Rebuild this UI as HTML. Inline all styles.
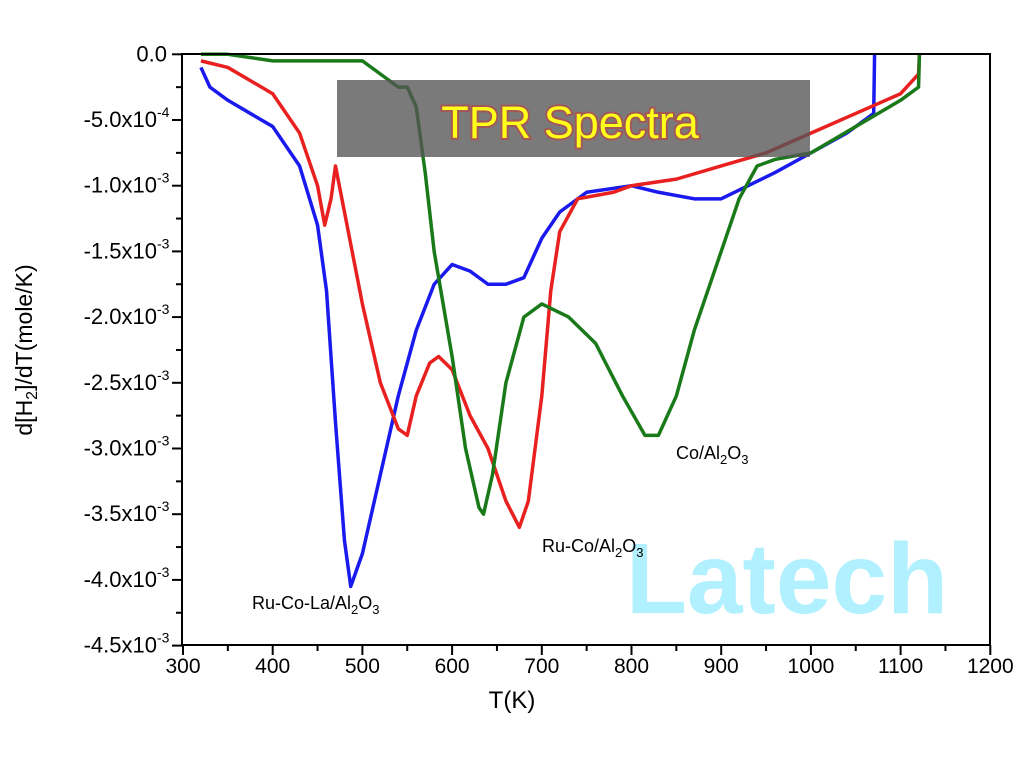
<!DOCTYPE html>
<html><head><meta charset="utf-8"><style>
html,body{margin:0;padding:0;background:#fff;width:1024px;height:768px;overflow:hidden}
svg{display:block}
text{font-family:"Liberation Sans",sans-serif}
</style></head><body>
<svg id="s" width="1024" height="768" viewBox="0 0 1024 768">
<g id="plot"></g>
<rect x="337" y="80" width="473" height="77" fill="#555" fill-opacity="0.78"/>
<text x="570" y="138" text-anchor="middle" font-size="45" fill="#ffff1a" stroke="#c33" stroke-width="4" stroke-opacity="0.5" paint-order="stroke">TPR Spectra</text>
<text x="787" y="613" text-anchor="middle" font-size="100" font-weight="bold" fill="#b0f0ff">Latech</text>
<rect x="182" y="54" width="808" height="591" fill="none" stroke="#000" stroke-width="2"/>
<g font-size="18" fill="#000">
<text x="252" y="609">Ru-Co-La/Al<tspan font-size="13" dy="5">2</tspan><tspan dy="-5">O</tspan><tspan font-size="13" dy="5">3</tspan></text>
<text x="542" y="552">Ru-Co/Al<tspan font-size="13" dy="5">2</tspan><tspan dy="-5">O</tspan><tspan font-size="13" dy="5">3</tspan></text>
<text x="676" y="459">Co/Al<tspan font-size="13" dy="5">2</tspan><tspan dy="-5">O</tspan><tspan font-size="13" dy="5">3</tspan></text>
</g>
<text x="512" y="708" text-anchor="middle" font-size="24">T(K)</text>
<text transform="translate(32,350) rotate(-90)" text-anchor="middle" font-size="23">d[H<tspan font-size="16" dy="5">2</tspan><tspan dy="-5">]/dT(mole/K)</tspan></text>
</svg>
<script>
const g=document.getElementById('plot');const NS='http://www.w3.org/2000/svg';
const X=t=>183+(t-300)*0.897, Y=v=>54.3+(-v)*131.4;
function el(n,a){const e=document.createElementNS(NS,n);for(const k in a)e.setAttribute(k,a[k]);g.appendChild(e);return e;}
for(let t=300;t<=1200;t+=50){const x=X(t),M=t%100==0;el('line',{x1:x,y1:645,x2:x,y2:M?655:651,stroke:'#000','stroke-width':2});
if(M){el('text',{x:x,y:673,'text-anchor':'middle','font-size':21}).textContent=t;}}
const labs=['0.0','-5.0x10|-4','-1.0x10|-3','-1.5x10|-3','-2.0x10|-3','-2.5x10|-3','-3.0x10|-3','-3.5x10|-3','-4.0x10|-3','-4.5x10|-3'];
for(let i=0;i<=18;i++){const y=Y(-i*0.25),M=i%2==0;el('line',{x1:M?172:176,y1:y,x2:182,y2:y,stroke:'#000','stroke-width':2});
if(M){const p=labs[i/2].split('|');const t=el('text',{x:p[1]?157:167,y:y+7,'text-anchor':'end','font-size':22});t.textContent=p[0];
if(p[1]){const e=el('text',{x:157,y:y-3,'font-size':14});e.textContent=p[1];}}}
function curve(d,c){let pts=d.map(p=>X(p[0])+','+Y(p[1])).join(' ');el('polyline',{points:pts,fill:'none',stroke:c,'stroke-width':3.5,'stroke-linejoin':'round'});}
curve([[320,-0.1],[330,-0.25],[350,-0.35],[400,-0.55],[430,-0.85],[450,-1.3],[460,-1.8],[470,-2.8],[480,-3.7],[487,-4.05],[500,-3.8],[520,-3.2],[540,-2.6],[560,-2.1],[580,-1.75],[600,-1.6],[620,-1.65],[640,-1.75],[660,-1.75],[680,-1.7],[700,-1.4],[720,-1.2],[750,-1.05],[800,-1.0],[830,-1.05],[870,-1.1],[900,-1.1],[930,-1.0],[960,-0.9],[1000,-0.75],[1040,-0.6],[1070,-0.45],[1071,0]],'#1a1aee');
curve([[320,-0.05],[350,-0.1],[400,-0.3],[430,-0.6],[450,-1.0],[458,-1.3],[465,-1.1],[470,-0.85],[480,-1.2],[500,-1.9],[520,-2.5],[540,-2.85],[550,-2.9],[560,-2.6],[575,-2.35],[585,-2.3],[600,-2.4],[620,-2.75],[640,-3.0],[660,-3.4],[675,-3.6],[685,-3.4],[700,-2.6],[710,-1.8],[720,-1.35],[740,-1.1],[780,-1.05],[800,-1.0],[850,-0.95],[900,-0.85],[950,-0.75],[1000,-0.6],[1050,-0.45],[1100,-0.3],[1120,-0.15],[1121,0]],'#e82020');
curve([[320,0],[350,0],[400,-0.05],[450,-0.05],[500,-0.05],[520,-0.15],[540,-0.25],[550,-0.25],[560,-0.4],[570,-0.9],[580,-1.5],[600,-2.3],[615,-3.0],[630,-3.45],[635,-3.5],[645,-3.2],[660,-2.5],[680,-2.0],[700,-1.9],[730,-2.0],[760,-2.2],[790,-2.6],[815,-2.9],[830,-2.9],[850,-2.6],[870,-2.1],[900,-1.5],[920,-1.1],[940,-0.85],[960,-0.8],[1000,-0.75],[1050,-0.55],[1100,-0.35],[1120,-0.25],[1121,0]],'#1a7a1a');
</script>
</body></html>
